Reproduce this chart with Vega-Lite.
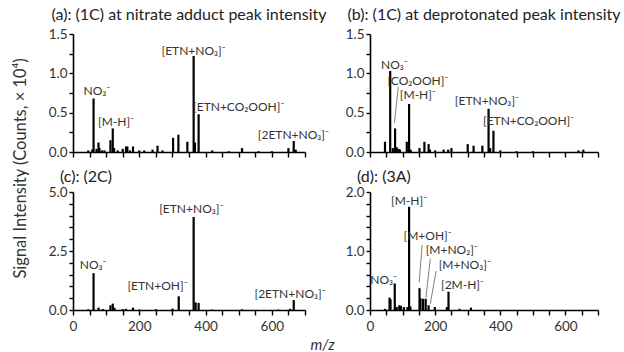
{
  "$schema": "https://vega.github.io/schema/vega-lite/v6.json",
  "padding": {"left": 11, "top": 7, "right": 0, "bottom": 0},
  "config": {
    "font": "Lato",
    "view": {"stroke": null},
    "axis": {"grid": false, "domainColor": "black", "domainWidth": 1.6, "tickColor": "black", "tickWidth": 1.4, "tickSize": 4, "labelFontSize": 13.5, "labelColor": "#333", "labelOverlap": false, "labelFlush": false, "titleColor": "#333", "titleFontWeight": "normal"},
    "axisX": {"tickSize": 5, "labelPadding": 4},
    "title": {"fontSize": 16, "fontWeight": "normal", "color": "#222"},
    "text": {"fontSize": 12, "color": "#333"}
  },
  "datasets": {
    "peaks": [
      {"panel": "a", "mz": 46, "intensity": 0.02}, {"panel": "a", "mz": 58, "intensity": 0.03}, {"panel": "a", "mz": 62, "intensity": 0.68}, {"panel": "a", "mz": 71, "intensity": 0.04}, {"panel": "a", "mz": 77, "intensity": 0.12}, {"panel": "a", "mz": 80, "intensity": 0.05}, {"panel": "a", "mz": 88, "intensity": 0.02}, {"panel": "a", "mz": 95, "intensity": 0.02}, {"panel": "a", "mz": 113, "intensity": 0.15}, {"panel": "a", "mz": 120, "intensity": 0.30}, {"panel": "a", "mz": 124, "intensity": 0.05}, {"panel": "a", "mz": 135, "intensity": 0.02}, {"panel": "a", "mz": 150, "intensity": 0.04}, {"panel": "a", "mz": 160, "intensity": 0.07}, {"panel": "a", "mz": 164, "intensity": 0.07}, {"panel": "a", "mz": 172, "intensity": 0.02}, {"panel": "a", "mz": 181, "intensity": 0.07}, {"panel": "a", "mz": 200, "intensity": 0.02}, {"panel": "a", "mz": 215, "intensity": 0.02}, {"panel": "a", "mz": 240, "intensity": 0.03}, {"panel": "a", "mz": 255, "intensity": 0.08}, {"panel": "a", "mz": 270, "intensity": 0.02}, {"panel": "a", "mz": 302, "intensity": 0.18}, {"panel": "a", "mz": 318, "intensity": 0.22}, {"panel": "a", "mz": 345, "intensity": 0.13}, {"panel": "a", "mz": 364, "intensity": 1.22}, {"panel": "a", "mz": 368, "intensity": 0.12}, {"panel": "a", "mz": 379, "intensity": 0.48}, {"panel": "a", "mz": 420, "intensity": 0.02}, {"panel": "a", "mz": 470, "intensity": 0.01}, {"panel": "a", "mz": 510, "intensity": 0.05}, {"panel": "a", "mz": 560, "intensity": 0.01}, {"panel": "a", "mz": 600, "intensity": 0.01}, {"panel": "a", "mz": 650, "intensity": 0.05}, {"panel": "a", "mz": 666, "intensity": 0.14}, {"panel": "a", "mz": 672, "intensity": 0.03},
      {"panel": "b", "mz": 46, "intensity": 0.13}, {"panel": "b", "mz": 62, "intensity": 1.03}, {"panel": "b", "mz": 70, "intensity": 0.05}, {"panel": "b", "mz": 77, "intensity": 0.30}, {"panel": "b", "mz": 82, "intensity": 0.06}, {"panel": "b", "mz": 88, "intensity": 0.04}, {"panel": "b", "mz": 92, "intensity": 0.03}, {"panel": "b", "mz": 113, "intensity": 0.13}, {"panel": "b", "mz": 120, "intensity": 0.61}, {"panel": "b", "mz": 125, "intensity": 0.03}, {"panel": "b", "mz": 152, "intensity": 0.05}, {"panel": "b", "mz": 167, "intensity": 0.13}, {"panel": "b", "mz": 180, "intensity": 0.10}, {"panel": "b", "mz": 184, "intensity": 0.03}, {"panel": "b", "mz": 200, "intensity": 0.02}, {"panel": "b", "mz": 226, "intensity": 0.03}, {"panel": "b", "mz": 240, "intensity": 0.03}, {"panel": "b", "mz": 250, "intensity": 0.05}, {"panel": "b", "mz": 300, "intensity": 0.10}, {"panel": "b", "mz": 318, "intensity": 0.08}, {"panel": "b", "mz": 345, "intensity": 0.08}, {"panel": "b", "mz": 364, "intensity": 0.55}, {"panel": "b", "mz": 369, "intensity": 0.05}, {"panel": "b", "mz": 379, "intensity": 0.27}, {"panel": "b", "mz": 400, "intensity": 0.02}, {"panel": "b", "mz": 450, "intensity": 0.01}, {"panel": "b", "mz": 500, "intensity": 0.01}, {"panel": "b", "mz": 640, "intensity": 0.02}, {"panel": "b", "mz": 655, "intensity": 0.03},
      {"panel": "c", "mz": 46, "intensity": 0.03}, {"panel": "c", "mz": 62, "intensity": 1.56}, {"panel": "c", "mz": 77, "intensity": 0.10}, {"panel": "c", "mz": 90, "intensity": 0.04}, {"panel": "c", "mz": 113, "intensity": 0.20}, {"panel": "c", "mz": 120, "intensity": 0.27}, {"panel": "c", "mz": 125, "intensity": 0.10}, {"panel": "c", "mz": 150, "intensity": 0.04}, {"panel": "c", "mz": 160, "intensity": 0.05}, {"panel": "c", "mz": 181, "intensity": 0.10}, {"panel": "c", "mz": 200, "intensity": 0.02}, {"panel": "c", "mz": 250, "intensity": 0.03}, {"panel": "c", "mz": 300, "intensity": 0.06}, {"panel": "c", "mz": 319, "intensity": 0.58}, {"panel": "c", "mz": 364, "intensity": 3.94}, {"panel": "c", "mz": 370, "intensity": 0.32}, {"panel": "c", "mz": 379, "intensity": 0.30}, {"panel": "c", "mz": 420, "intensity": 0.02}, {"panel": "c", "mz": 510, "intensity": 0.03}, {"panel": "c", "mz": 620, "intensity": 0.02}, {"panel": "c", "mz": 655, "intensity": 0.05}, {"panel": "c", "mz": 666, "intensity": 0.42},
      {"panel": "d", "mz": 46, "intensity": 0.02}, {"panel": "d", "mz": 60, "intensity": 0.21}, {"panel": "d", "mz": 63, "intensity": 0.18}, {"panel": "d", "mz": 76, "intensity": 0.45}, {"panel": "d", "mz": 82, "intensity": 0.05}, {"panel": "d", "mz": 90, "intensity": 0.08}, {"panel": "d", "mz": 95, "intensity": 0.07}, {"panel": "d", "mz": 104, "intensity": 0.05}, {"panel": "d", "mz": 115, "intensity": 0.05}, {"panel": "d", "mz": 120, "intensity": 1.75}, {"panel": "d", "mz": 124, "intensity": 0.06}, {"panel": "d", "mz": 152, "intensity": 0.37}, {"panel": "d", "mz": 155, "intensity": 0.20}, {"panel": "d", "mz": 163, "intensity": 0.19}, {"panel": "d", "mz": 171, "intensity": 0.19}, {"panel": "d", "mz": 180, "intensity": 0.08}, {"panel": "d", "mz": 199, "intensity": 0.05}, {"panel": "d", "mz": 236, "intensity": 0.05}, {"panel": "d", "mz": 241, "intensity": 0.31}, {"panel": "d", "mz": 275, "intensity": 0.02}, {"panel": "d", "mz": 310, "intensity": 0.04}
    ],
    "labels": [
      {"panel": "a", "mz": 72, "intensity": 0.77, "label": "NO₃⁻"},
      {"panel": "a", "mz": 130, "intensity": 0.38, "label": "[M-H]⁻"},
      {"panel": "a", "mz": 364, "intensity": 1.29, "label": "[ETN+NO₃]⁻"},
      {"panel": "a", "mz": 500, "intensity": 0.57, "label": "[ETN+CO₂OOH]⁻"},
      {"panel": "a", "mz": 665, "intensity": 0.21, "label": "[2ETN+NO₃]⁻"},
      {"panel": "b", "mz": 75, "intensity": 1.10, "label": "NO₃⁻"},
      {"panel": "b", "mz": 147, "intensity": 0.90, "label": "[CO₂OOH]⁻"},
      {"panel": "b", "mz": 147, "intensity": 0.72, "label": "[M-H]⁻"},
      {"panel": "b", "mz": 359, "intensity": 0.65, "label": "[ETN+NO₃]⁻"},
      {"panel": "b", "mz": 487, "intensity": 0.40, "label": "[ETN+CO₂OOH]⁻"},
      {"panel": "c", "mz": 61, "intensity": 1.9, "label": "NO₃⁻"},
      {"panel": "c", "mz": 255, "intensity": 1.02, "label": "[ETN+OH]⁻"},
      {"panel": "c", "mz": 357, "intensity": 4.3, "label": "[ETN+NO₃]⁻"},
      {"panel": "c", "mz": 655, "intensity": 0.68, "label": "[2ETN+NO₃]⁻"},
      {"panel": "d", "mz": 42, "intensity": 0.51, "label": "NO₃⁻"},
      {"panel": "d", "mz": 120, "intensity": 1.84, "label": "[M-H]⁻"},
      {"panel": "d", "mz": 177, "intensity": 1.25, "label": "[M+OH]⁻"},
      {"panel": "d", "mz": 251, "intensity": 1.01, "label": "[M+NO₂]⁻"},
      {"panel": "d", "mz": 291, "intensity": 0.77, "label": "[M+NO₃]⁻"},
      {"panel": "d", "mz": 284, "intensity": 0.43, "label": "[2M-H]⁻"}
    ],
    "leaders": [
      {"panel": "b", "mz": 87, "intensity": 0.83, "mz2": 75, "intensity2": 0.37},
      {"panel": "d", "mz": 160, "intensity": 1.10, "mz2": 151, "intensity2": 0.47},
      {"panel": "d", "mz": 185, "intensity": 0.87, "mz2": 172, "intensity2": 0.21},
      {"panel": "d", "mz": 203, "intensity": 0.66, "mz2": 185, "intensity2": 0.10}
    ]
  },
  "concat": [
    {
      "width": 232, "height": 118,
      "title": {"text": "(a): (1C) at nitrate adduct peak intensity", "anchor": "middle", "frame": "group", "offset": 4},
      "encoding": {
        "x": {"field": "mz", "type": "quantitative", "scale": {"domain": [0, 700], "nice": false},
              "axis": {"values": [0,50,100,150,200,250,300,350,400,450,500,550,600,650,700], "labels": false, "title": null}},
        "y": {"field": "intensity", "type": "quantitative", "scale": {"domain": [0, 1.5], "nice": false},
              "axis": {"values": [0,0.25,0.5,0.75,1,1.25,1.5], "format": ".1f", "labelExpr": "(datum.value*2) % 1 === 0 ? datum.label : ''",
                       "title": "Signal Intensity (Counts, × 10⁴)", "titleFontSize": 16.5, "titleX": -53, "titleY": 134, "titleBaseline": "middle", "titleAlign": "center", "titleAngle": -90}}
      },
      "layer": [
        {"data": {"name": "peaks"}, "transform": [{"filter": "datum.panel === 'a'"}],
         "mark": {"type": "rule", "strokeWidth": 2.2, "color": "black"},
         "encoding": {"y2": {"datum": 0}}},
        {"data": {"name": "labels"}, "transform": [{"filter": "datum.panel === 'a'"}],
         "mark": {"type": "text"},
         "encoding": {"text": {"field": "label"}}}
      ]
    },
    {
      "width": 228, "height": 118,
      "title": {"text": "(b): (1C) at deprotonated peak intensity", "anchor": "middle", "frame": "group", "offset": 4},
      "encoding": {
        "x": {"field": "mz", "type": "quantitative", "scale": {"domain": [0, 700], "nice": false},
              "axis": {"values": [0,50,100,150,200,250,300,350,400,450,500,550,600,650,700], "labels": false, "title": null}},
        "y": {"field": "intensity", "type": "quantitative", "scale": {"domain": [0, 1.5], "nice": false},
              "axis": {"values": [0,0.25,0.5,0.75,1,1.25,1.5], "format": ".1f", "labelExpr": "(datum.value*2) % 1 === 0 ? datum.label : ''", "title": null}}
      },
      "layer": [
        {"data": {"name": "peaks"}, "transform": [{"filter": "datum.panel === 'b'"}],
         "mark": {"type": "rule", "strokeWidth": 2.2, "color": "black"},
         "encoding": {"y2": {"datum": 0}}},
        {"data": {"name": "leaders"}, "transform": [{"filter": "datum.panel === 'b'"}],
         "mark": {"type": "rule", "strokeWidth": 1, "color": "#7f7f7f"},
         "encoding": {"x2": {"field": "mz2"}, "y2": {"field": "intensity2"}}},
        {"data": {"name": "labels"}, "transform": [{"filter": "datum.panel === 'b'"}],
         "mark": {"type": "text"},
         "encoding": {"text": {"field": "label"}}}
      ]
    },
    {
      "width": 232, "height": 118,
      "title": {"text": "(c): (2C)", "anchor": "start", "frame": "group", "offset": 0, "dx": -13},
      "encoding": {
        "x": {"field": "mz", "type": "quantitative", "scale": {"domain": [0, 700], "nice": false},
              "axis": {"values": [0,50,100,150,200,250,300,350,400,450,500,550,600,650,700], "labelExpr": "datum.value % 200 === 0 ? datum.label : ''",
                       "title": "m/z", "titleFontStyle": "italic", "titleFontSize": 15, "titleX": 249, "titleY": 34, "titleBaseline": "middle", "titleAlign": "center"}},
        "y": {"field": "intensity", "type": "quantitative", "scale": {"domain": [0, 5], "nice": false},
              "axis": {"values": [0,0.5,1,1.5,2,2.5,3,3.5,4,4.5,5], "format": ".1f", "labelExpr": "datum.value % 2.5 === 0 ? datum.label : ''", "title": null}}
      },
      "layer": [
        {"data": {"name": "peaks"}, "transform": [{"filter": "datum.panel === 'c'"}],
         "mark": {"type": "rule", "strokeWidth": 2.2, "color": "black"},
         "encoding": {"y2": {"datum": 0}}},
        {"data": {"name": "labels"}, "transform": [{"filter": "datum.panel === 'c'"}],
         "mark": {"type": "text"},
         "encoding": {"text": {"field": "label"}}}
      ]
    },
    {
      "width": 228, "height": 118,
      "title": {"text": "(d): (3A)", "anchor": "start", "frame": "group", "offset": 0, "dx": -13},
      "encoding": {
        "x": {"field": "mz", "type": "quantitative", "scale": {"domain": [0, 700], "nice": false},
              "axis": {"values": [0,50,100,150,200,250,300,350,400,450,500,550,600,650,700], "labelExpr": "datum.value % 200 === 0 ? datum.label : ''", "title": null}},
        "y": {"field": "intensity", "type": "quantitative", "scale": {"domain": [0, 2], "nice": false},
              "axis": {"values": [0,0.2,0.4,0.6,0.8,1,1.2,1.4,1.6,1.8,2], "format": ".1f", "labelExpr": "datum.value % 1 === 0 ? datum.label : ''", "title": null}}
      },
      "layer": [
        {"data": {"name": "peaks"}, "transform": [{"filter": "datum.panel === 'd'"}],
         "mark": {"type": "rule", "strokeWidth": 2.2, "color": "black"},
         "encoding": {"y2": {"datum": 0}}},
        {"data": {"name": "leaders"}, "transform": [{"filter": "datum.panel === 'd'"}],
         "mark": {"type": "rule", "strokeWidth": 1, "color": "#7f7f7f"},
         "encoding": {"x2": {"field": "mz2"}, "y2": {"field": "intensity2"}}},
        {"data": {"name": "labels"}, "transform": [{"filter": "datum.panel === 'd'"}],
         "mark": {"type": "text"},
         "encoding": {"text": {"field": "label"}}}
      ]
    }
  ],
  "columns": 2,
  "bounds": "flush",
  "spacing": {"row": 40, "column": 65}
}
